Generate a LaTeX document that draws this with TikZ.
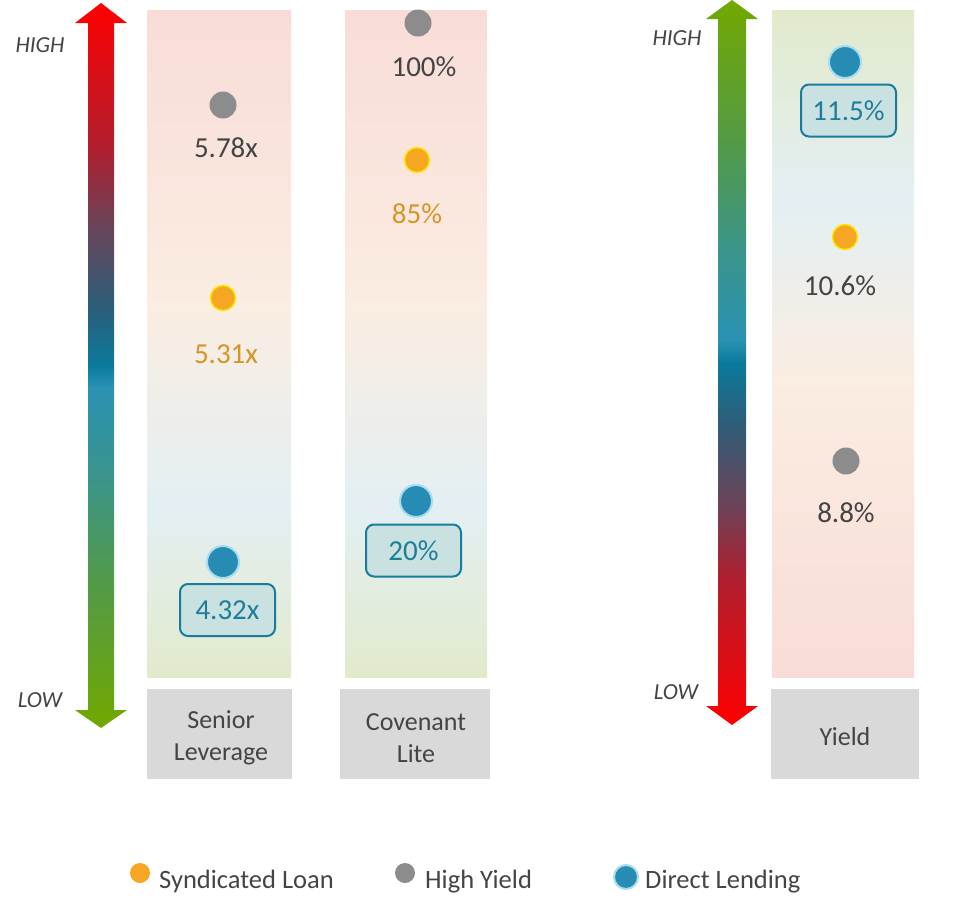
\documentclass[tikz,border=0pt]{standalone}
\usepackage{fontspec}
\setmainfont{Carlito}
\definecolor{R1}{HTML}{FF0000}
\definecolor{R2}{HTML}{B01E2E}
\definecolor{P1}{HTML}{6E4256}
\definecolor{S1}{HTML}{2C5E7A}
\definecolor{T1}{HTML}{0A7A9C}
\definecolor{T2}{HTML}{2A92B4}
\definecolor{G3}{HTML}{3A948C}
\definecolor{G4}{HTML}{529A48}
\definecolor{G5}{HTML}{72A800}
\definecolor{cPink}{HTML}{F9DCD8}
\definecolor{cPeach}{HTML}{FAEDE2}
\definecolor{cBlue}{HTML}{E3EFF3}
\definecolor{cGreen}{HTML}{E2EACC}
\definecolor{catgray}{HTML}{D9D9D9}
\definecolor{txtgray}{HTML}{444444}
\definecolor{dotgray}{HTML}{8C8C8C}
\definecolor{dotorange}{HTML}{F5A623}
\definecolor{ringyellow}{HTML}{FFE600}
\definecolor{dotblue}{HTML}{268CB3}
\definecolor{glowblue}{HTML}{A8DCEE}
\definecolor{boxfill}{HTML}{C9E1E1}
\definecolor{boxline}{HTML}{1A7C9C}
\definecolor{boxtext}{HTML}{1E7E9A}
\definecolor{orangetext}{HTML}{D69524}
\pgfdeclareverticalshading{arrowup}{100bp}{color(0bp)=(G5); color(25bp)=(G5); color(35bp)=(G4); color(42.5bp)=(G3); color(48.5bp)=(T2); color(50bp)=(T1); color(54bp)=(S1); color(60bp)=(P1); color(65bp)=(R2); color(75bp)=(R1); color(100bp)=(R1)}
\pgfdeclareverticalshading{arrowdown}{100bp}{color(0bp)=(R1); color(25bp)=(R1); color(35bp)=(R2); color(40bp)=(P1); color(46bp)=(S1); color(50bp)=(T1); color(51.5bp)=(T2); color(57.5bp)=(G3); color(65bp)=(G4); color(75bp)=(G5); color(100bp)=(G5)}
\pgfdeclareverticalshading{colA}{100bp}{color(0bp)=(cGreen); color(25bp)=(cGreen); color(37.8bp)=(cBlue); color(52.65bp)=(cPeach); color(75bp)=(cPink); color(100bp)=(cPink)}
\pgfdeclareverticalshading{colB}{100bp}{color(0bp)=(cPink); color(25bp)=(cPink); color(47.35bp)=(cPeach); color(60.9bp)=(cBlue); color(75bp)=(cGreen); color(100bp)=(cGreen)}
\tikzset{
  valtext/.style={font=\fontsize{29}{34}\selectfont, anchor=base, inner sep=0pt},
  grayval/.style={valtext, text=txtgray},
  orangeval/.style={valtext, text=orangetext},
  blueval/.style={font=\fontsize{29}{34}\selectfont, text=boxtext, draw=boxline, fill=boxfill, line width=2pt, rounded corners=8pt, minimum width=95pt, minimum height=52pt, inner sep=0pt},
  graydot/.style={circle, fill=dotgray, minimum size=27pt, inner sep=0pt},
  orangedot/.style={circle, fill=dotorange, draw=ringyellow, line width=1.5pt, minimum size=25pt, inner sep=0pt},
  bluedot/.style={circle, fill=dotblue, draw=glowblue, line width=2pt, minimum size=32pt, inner sep=0pt},
  catbox/.style={fill=catgray, inner sep=0pt},
  cattext/.style={text=txtgray, align=center, font=\fontsize{26}{32}\selectfont, inner sep=0pt},
  hilo/.style={font=\fontsize{23}{28}\selectfont\itshape, text=txtgray, inner sep=0pt},
  legtext/.style={font=\fontsize{26.5}{30}\selectfont, text=txtgray, anchor=base west, inner sep=0pt}
}
\begin{document}
\begin{tikzpicture}[x=1pt,y=-1pt]
\useasboundingbox (0,0) rectangle (980,911);
% arrows
\shade[shading=arrowup] (101,3) -- (127,23) -- (114,23) -- (114,710) -- (127,710) -- (101,728) -- (75,710) -- (88,710) -- (88,23) -- (75,23) -- cycle;
\shade[shading=arrowdown] (732,0) -- (758,19) -- (746,19) -- (746,706) -- (758,706) -- (732,725) -- (706,706) -- (718,706) -- (718,19) -- (706,19) -- cycle;
\node[hilo] (hi1) at (40,45) {HIGH};
\node[hilo] (lo1) at (40,700) {LOW};
\node[hilo] (hi2) at (677,38) {HIGH};
\node[hilo] (lo2) at (676,692) {LOW};
% columns
\shade[shading=colA] (147,10) rectangle (291,677);
\shade[shading=colA] (345,10) rectangle (487,677);
\shade[shading=colB] (772,10) rectangle (914,677);
% category boxes
\node[catbox, minimum width=145pt, minimum height=90pt] (cat1) at (219.5,734) {};
\node[cattext] (cat1t) at (221,738) {Senior\\Leverage};
\node[catbox, minimum width=150pt, minimum height=90pt] (cat2) at (415,734) {};
\node[cattext] (cat2t) at (416,738) {Covenant\\Lite};
\node[catbox, minimum width=148pt, minimum height=90pt] (cat3) at (845,734) {};
\node[cattext] (cat3t) at (845,737) {Yield};
% column 1
\node[graydot] (g1) at (223,105) {};
\node[grayval] (g1t) at (226,157) {5.78x};
\node[orangedot] (o1) at (223,298) {};
\node[orangeval] (o1t) at (226,363) {5.31x};
\node[bluedot] (b1) at (223,562) {};
\node[blueval] (b1t) at (227.5,610) {4.32x};
% column 2
\node[graydot] (g2) at (418,23) {};
\node[grayval] (g2t) at (424,76) {100\%};
\node[orangedot] (o2) at (417,160) {};
\node[orangeval] (o2t) at (417,223) {85\%};
\node[bluedot] (b2) at (416,501) {};
\node[blueval] (b2t) at (413.5,550.5) {20\%};
% column 3
\node[bluedot] (b3) at (845,62) {};
\node[blueval] (b3t) at (848.5,110.5) {11.5\%};
\node[orangedot] (o3) at (845,237) {};
\node[grayval] (o3t) at (840,295) {10.6\%};
\node[graydot] (g3) at (846,461) {};
\node[grayval] (g3t) at (846,522) {8.8\%};
% legend
\node[orangedot, draw=none, minimum size=20pt] (lo) at (140,873) {};
\node[legtext] (lot) at (159,888) {Syndicated Loan};
\node[graydot, minimum size=20pt] (lg) at (405,873) {};
\node[legtext] (lgt) at (425,888) {High Yield};
\node[bluedot, minimum size=24pt] (lb) at (626,877) {};
\node[legtext] (lbt) at (645,888) {Direct Lending};
\end{tikzpicture}
\end{document}
